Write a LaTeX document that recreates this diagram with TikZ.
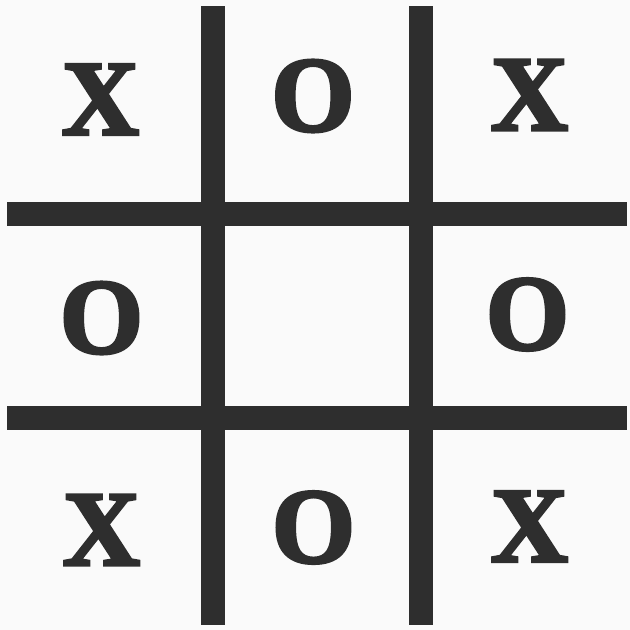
\documentclass[tikz,border=0pt]{standalone}
\usepackage{fontspec}
\newfontfamily\markfont{Liberation Serif Bold}[FakeBold=3]
\definecolor{ink}{HTML}{2E2E2E}
\definecolor{paper}{HTML}{FAFAFA}
\tikzset{
  bar/.style={line width=24pt, draw=ink, line cap=butt},
  glyph/.style={inner sep=0pt, text=ink, font=\markfont\fontsize{107}{107}\selectfont, anchor=center}
}
\begin{document}
\begin{tikzpicture}[x=1pt,y=-1pt]
  \fill[paper] (0,0) rectangle (630,630);
  \useasboundingbox (0,0) rectangle (630,630);
  % grid bars
  \draw[bar] (213,6) -- (213,625);
  \draw[bar] (420.5,6) -- (420.5,625);
  \draw[bar] (7,214) -- (627,214);
  \draw[bar] (7,418) -- (627,418);
  % marks
  \node[glyph] (c11) at (100.5,99.5) {X};
  \node[glyph] (c12) at (313,96) {O};
  \node[glyph] (c13) at (529.5,95) {X};
  \node[glyph] (c21) at (101.5,318) {O};
  \node[glyph] (c23) at (527.5,314.5) {O};
  \node[glyph] (c31) at (101.5,530) {X};
  \node[glyph] (c32) at (313.5,527.5) {O};
  \node[glyph] (c33) at (529.5,526.5) {X};
\end{tikzpicture}
\end{document}
